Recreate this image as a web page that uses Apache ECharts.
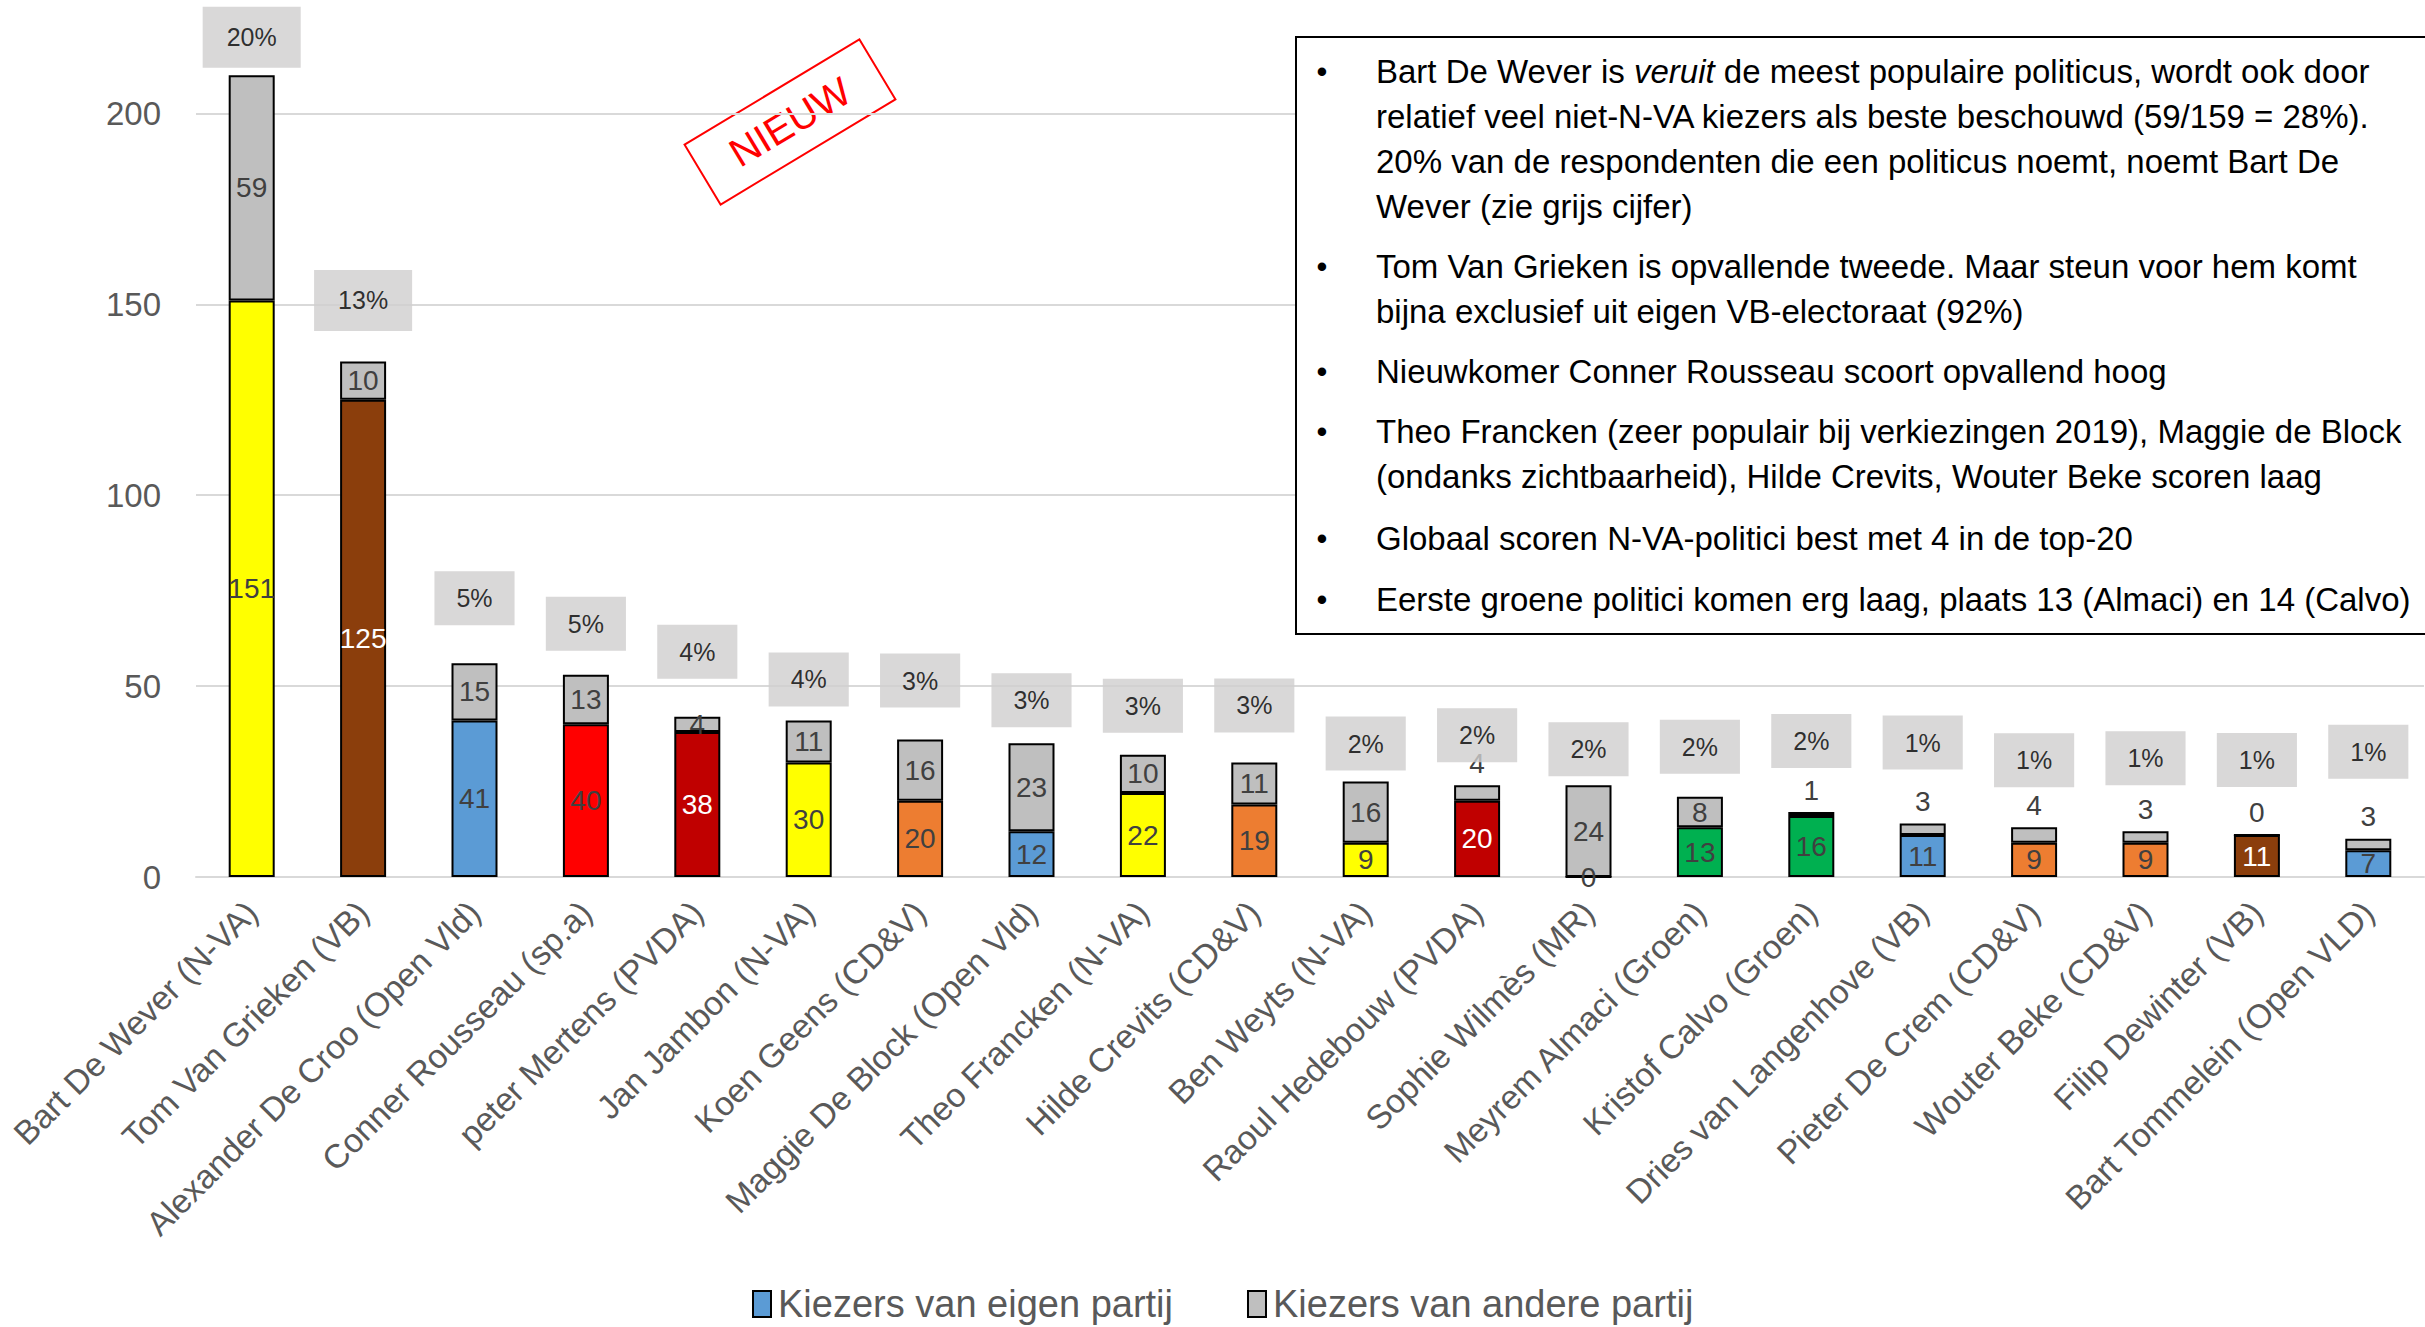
<!DOCTYPE html>
<html><head><meta charset="utf-8">
<script src="https://cdn.jsdelivr.net/npm/echarts@6/dist/echarts.min.js"></script>
<style>html,body{margin:0;padding:0;background:#fff;overflow:hidden}#c{width:2425px;height:1327px;}</style>
</head><body><div id="c"></div>
<script>
// ---- data ----
const categories = ['Bart De Wever (N-VA)','Tom Van Grieken (VB)','Alexander De Croo (Open Vld)','Conner Rousseau (sp.a)','peter Mertens (PVDA)','Jan Jambon (N-VA)','Koen Geens (CD&V)','Maggie De Block (Open Vld)','Theo Francken (N-VA)','Hilde Crevits (CD&V)','Ben Weyts (N-VA)','Raoul Hedebouw (PVDA)','Sophie Wilmès (MR)','Meyrem Almaci (Groen)','Kristof Calvo (Groen)','Dries van Langenhove (VB)','Pieter De Crem (CD&V)','Wouter Beke (CD&V)','Filip Dewinter (VB)','Bart Tommelein (Open VLD)'];
const ownVoters   = [151,125,41,40,38,30,20,12,22,19,9,20,0,13,16,11,9,9,11,7];
const otherVoters = [59,10,15,13,4,11,16,23,10,11,16,4,24,8,1,3,4,3,0,3];
const shareOfAll  = [20,13,5,5,4,4,3,3,3,3,2,2,2,2,2,1,1,1,1,1];
const seriesNames = ['Kiezers van eigen partij','Kiezers van andere partij'];
const yTickStep = 50;
const notes = [
  'Bart De Wever is {i|veruit} de meest populaire politicus, wordt ook door\nrelatief veel niet-N-VA kiezers als beste beschouwd (59/159 = 28%).\n20% van de respondenten die een politicus noemt, noemt Bart De\nWever (zie grijs cijfer)',
  'Tom Van Grieken is opvallende tweede. Maar steun voor hem komt\nbijna exclusief uit eigen VB-electoraat (92%)',
  'Nieuwkomer Conner Rousseau scoort opvallend hoog',
  'Theo Francken (zeer populair bij verkiezingen 2019), Maggie de Block\n(ondanks zichtbaarheid), Hilde Crevits, Wouter Beke scoren laag',
  'Globaal scoren N-VA-politici best met 4 in de top-20',
  'Eerste groene politici komen erg laag, plaats 13 (Almaci) en 14 (Calvo)'
];

// ---- styles / layout ----
const FONT = 'Liberation Sans, Arial, sans-serif';
const ownColors = ['#FFFF00','#8B3E0C','#5B9BD5','#FF0000','#C00000','#FFFF00','#ED7D31','#5B9BD5','#FFFF00','#ED7D31','#FFFF00','#C00000','#5B9BD5','#00B050','#00B050','#5B9BD5','#ED7D31','#ED7D31','#8B3E0C','#5B9BD5'];
const whiteOwnLabel = [1,4,11,18];
const otherLabelAbove = [11,14,15,16,17,18,19];
const pctLift = [38,61,65,51,65,41,59,43,49,57,38,50,36,50,71,81,67,73,75,87];
const bigPctBox = [0,1];
const noteFirstLineY = [71,266,371,431,538,599];
const NOTE_FS = 33;

const totals = ownVoters.map((v,i)=>v+otherVoters[i]);

const chart = echarts.init(document.getElementById('c'), null, {renderer:'svg'});
chart.setOption({
  animation:false,
  backgroundColor:'#fff',
  textStyle:{fontFamily:FONT},
  grid:{left:196,right:1,top:37,bottom:450,containLabel:false,outerBoundsMode:'none'},
  legend:{
    data:seriesNames, left:747, top:1280, itemWidth:18, itemHeight:26, itemGap:74,
    icon:'rect',
    textStyle:{fontSize:38,color:'#595959',fontFamily:FONT, padding:[0,0,0,2]}
  },
  xAxis:{
    type:'category', data:categories,
    axisTick:{show:false},
    axisLine:{lineStyle:{color:'#D9D9D9',width:2}},
    axisLabel:{rotate:45,interval:0,fontSize:33.5,color:'#595959',margin:30,fontFamily:FONT}
  },
  yAxis:{
    type:'value', min:0, max:220, interval:yTickStep,
    axisLine:{show:false}, axisTick:{show:false},
    axisLabel:{fontSize:33,color:'#595959',margin:35,showMaxLabel:false,fontFamily:FONT},
    splitLine:{lineStyle:{color:'#D9D9D9',width:2},showMaxLine:false}
  },
  series:[
    {
      name:seriesNames[0], type:'bar', stack:'t', barWidth:46,
      itemStyle:{color:'#5B9BD5',borderColor:'#000',borderWidth:2},
      label:{show:true,position:'inside',fontSize:28,color:'#404040',fontFamily:FONT},
      data:ownVoters.map((v,i)=>({value:v,itemStyle:{color:ownColors[i]},
        label:{color:whiteOwnLabel.includes(i)?'#FFFFFF':'#404040'}}))
    },
    {
      name:seriesNames[1], type:'bar', stack:'t', barWidth:46,
      itemStyle:{color:'#BFBFBF',borderColor:'#000',borderWidth:2},
      label:{show:true,position:'inside',fontSize:28,color:'#404040',fontFamily:FONT},
      data:otherVoters.map((v,i)=>otherLabelAbove.includes(i)
        ? {value:v,label:{position:'top',distance:8}} : {value:v})
    },
    {
      name:'aandeel', type:'scatter', symbol:'rect', symbolSize:2, silent:true, z:5,
      itemStyle:{color:'rgba(0,0,0,0)'},
      label:{show:true,position:'top',fontSize:25,lineHeight:26,color:'#000',
        backgroundColor:'#D0CECE',padding:[14,22,14,22],fontFamily:FONT,
        formatter:p=>shareOfAll[p.dataIndex]+'%'},
      data:totals.map((t,i)=>{
        const big = bigPctBox.includes(i);
        const h = big ? 61 : 54;
        return {value:t,label:{distance:pctLift[i]-h/2-1,
          padding: big ? [17,24,18,24] : [14,22,14,22]}};
      })
    }
  ],
  graphic:[
    {type:'rect',z:50,shape:{x:1296,y:37,width:1200,height:597},
      style:{fill:'#fff',stroke:'#000',lineWidth:2}},
    ...notes.flatMap((t,k)=>[
      {type:'text',z:51,x:1322,y:noteFirstLineY[k],
        style:{text:'•',fontSize:31,fontFamily:FONT,fill:'#000',align:'center',verticalAlign:'middle'}},
      {type:'text',z:51,x:1376,y:noteFirstLineY[k]-22.5,
        style:{text:t,fontSize:NOTE_FS,fontFamily:FONT,fill:'#000',lineHeight:45,verticalAlign:'top',
          rich:{i:{fontStyle:'italic',fontSize:NOTE_FS,fontFamily:FONT,lineHeight:45}}}}
    ]),
    {type:'group',x:790,y:122,rotation:31*Math.PI/180,z:40,children:[
      {type:'rect',shape:{x:-102,y:-35,width:204,height:70},style:{fill:'none',stroke:'#FF0000',lineWidth:2}},
      {type:'text',style:{text:'NIEUW',x:0,y:0,align:'center',verticalAlign:'middle',fill:'#FF0000',fontSize:40,fontFamily:FONT}}
    ]}
  ]
});
</script></body></html>
